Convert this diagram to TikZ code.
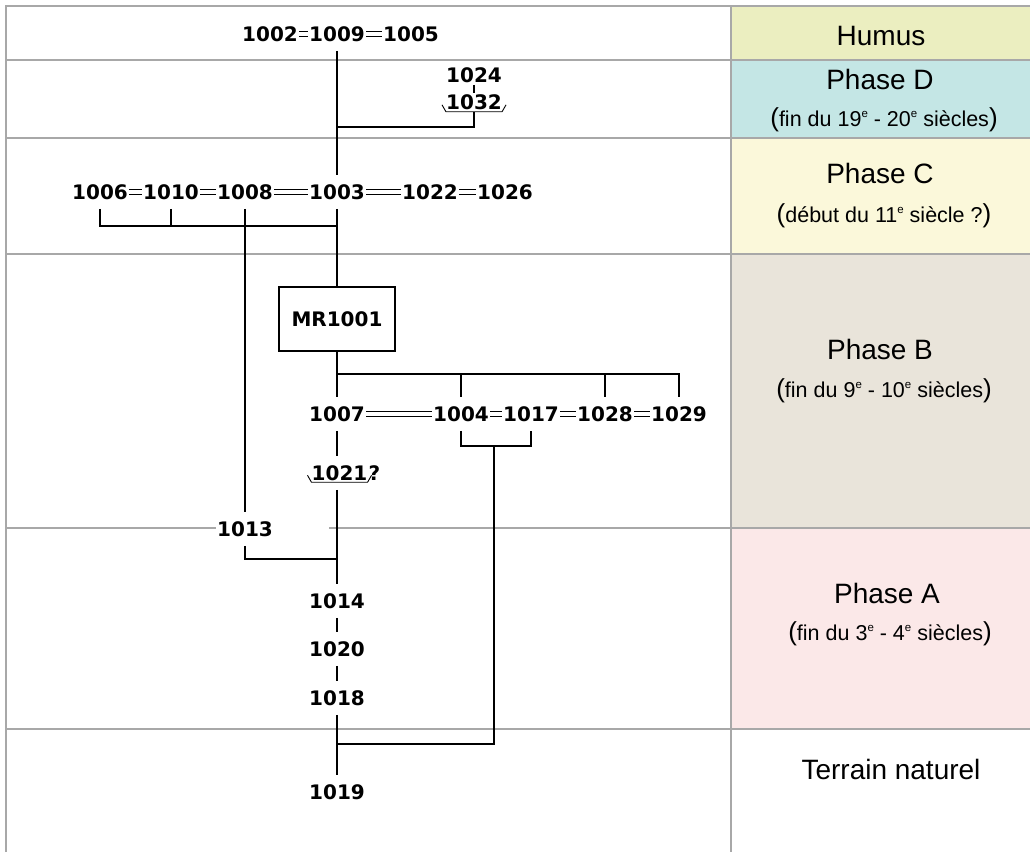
\documentclass[tikz,border=0pt]{standalone}
\usepackage{fontspec}
\setmainfont{Liberation Sans}
\newfontfamily\numfont{DejaVu Sans}
\newcommand{\gpar}[1]{{\fontsize{26}{26}\selectfont #1}}
\newcommand{\expo}[1]{\raisebox{8.5pt}{\fontsize{11.5}{11.5}\selectfont #1}}
\definecolor{humus}{RGB}{235,238,192}
\definecolor{phaseD}{RGB}{196,230,229}
\definecolor{phaseC}{RGB}{251,248,218}
\definecolor{phaseB}{RGB}{233,228,218}
\definecolor{phaseA}{RGB}{251,232,232}
\definecolor{grille}{RGB}{168,168,168}
\begin{document}
\begin{tikzpicture}[x=1pt,y=-1pt,
    us/.style={font=\numfont\bfseries\fontsize{20}{20}\selectfont, inner xsep=1pt, inner ysep=9pt},
    egal/.style={double, double distance=3.8pt, line width=0.8pt},
    lien/.style={line width=1.3pt},
    ligne/.style={grille, line width=1.3pt},
    phase/.style={font=\fontsize{28}{28}\selectfont, anchor=base},
    epoque/.style={font=\fontsize{21.5}{21.5}\selectfont, anchor=base}]
    \useasboundingbox (0,0) rectangle (1030,852);
    % fonds des phases
    \fill[humus] (731,6) rectangle (1030,60);
    \fill[phaseD] (731,60) rectangle (1030,138);
    \fill[phaseC] (731,138) rectangle (1030,254);
    \fill[phaseB] (731,254) rectangle (1030,528);
    \fill[phaseA] (731,528) rectangle (1030,729);
    % grille
    \draw[ligne] (6,852) -- (6,6) -- (1030,6);
    \foreach \y in {60,138,254,729}
    \draw[ligne] (6,\y) -- (1030,\y);
    \draw[ligne] (731,6) -- (731,852);
    % colonne des phases
    \node[phase] (humus) at (881,45) {Humus};
    \node[phase] (phD) at (880,89) {Phase D};
    \node[epoque] (epD) at (884,126) {\gpar{(}fin du 19\expo{e} - 20\expo{e} siècles\gpar{)}};
    \node[phase] (phC) at (880,183) {Phase C};
    \node[epoque] (epC) at (884,222) {\gpar{(}début du 11\expo{e} siècle ?\gpar{)}};
    \node[phase] (phB) at (880,359) {Phase B};
    \node[epoque] (epB) at (884,397) {\gpar{(}fin du 9\expo{e} - 10\expo{e} siècles\gpar{)}};
    \node[phase] (phA) at (887,603) {Phase A};
    \node[epoque] (epA) at (890,640) {\gpar{(}fin du 3\expo{e} - 4\expo{e} siècles\gpar{)}};
    \node[phase] (tn) at (891,779) {Terrain naturel};
    % humus
    \node[us] (n1002) at (270,34) {1002};
    \node[us] (n1009) at (337,34) {1009};
    \node[us] (n1005) at (411,34) {1005};
    % phase D
    \node[us, inner ysep=2pt] (n1024) at (474,75) {1024};
    \node[us, inner ysep=2pt] (n1032) at (474,102.5) {1032};
    % phase C
    \node[us] (n1006) at (100,192) {1006};
    \node[us] (n1010) at (171,192) {1010};
    \node[us] (n1008) at (245,192) {1008};
    \node[us] (n1003) at (337,192) {1003};
    \node[us] (n1022) at (430,192) {1022};
    \node[us] (n1026) at (505,192) {1026};
    % phase B
    \node[us, draw, line width=1.3pt, minimum width=116, minimum height=64] (mr) at (337,319) {MR1001};
    \node[us] (n1007) at (337,414) {1007};
    \node[us] (n1004) at (461,414) {1004};
    \node[us] (n1017) at (531,414) {1017};
    \node[us] (n1028) at (605,414) {1028};
    \node[us] (n1029) at (679,414) {1029};
    \node[us] (n1021) at (339.5,473) {1021};
    \node[us, anchor=base west, inner xsep=0pt] (q1021) at (n1021.base east) {?};
    % phase A
    \node[us] (n1013) at (245,529) {1013};
    \node[us] (n1014) at (337,601) {1014};
    \node[us] (n1020) at (337,649) {1020};
    \node[us] (n1018) at (337,698) {1018};
    % terrain naturel
    \node[us] (n1019) at (337,792) {1019};
    % ligne coupee par 1013
    \coordinate (g) at (329,528);
    \draw[ligne] (6,528) -- (n1013.west |- g);
    \draw[ligne] (g) -- (1030,528);
    % egalites
    \foreach \a/\b in {n1002/n1009,n1009/n1005,n1006/n1010,n1010/n1008,n1008/n1003,n1003/n1022,n1022/n1026,n1007/n1004,n1004/n1017,n1017/n1028,n1028/n1029}
    \draw[egal] (\a) -- (\b);
    % creusements
    \foreach \n in {n1032,n1021}
    \draw[line width=0.9pt] ([shift={(-3,-5)}]\n.base west) -- ([shift={(1,2)}]\n.base west) -- ([shift={(-1,2)}]\n.base east) -- ([shift={(3,-5)}]\n.base east);
    % liens
    \draw[lien] (n1009) -- (n1003);
    \draw[lien] (n1024) -- (n1032);
    \coordinate (jD) at (337,127);
    \draw[lien] (n1032.south) |- (jD);
    \coordinate (jC) at (337,226);
    \draw[lien] (n1006.south) |- (jC);
    \draw[lien] (n1010.south) -- (n1010.south |- jC);
    \draw[lien] (n1003) -- (mr);
    \draw[lien] (n1008) -- (n1013);
    \draw[lien] (mr) -- (n1007);
    \coordinate (jB) at (337,374);
    \foreach \n in {n1004,n1028,n1029}
    \draw[lien] (jB) -| (\n.north);
    \coordinate (jE) at (494,446);
    \draw[lien] (n1004.south) |- (jE) -| (n1017.south);
    \draw[lien] (n1007.south) -- (n1007.south |- n1021.north);
    \coordinate (jA) at (337,559);
    \draw[lien] (n1013.south) |- (jA);
    \draw[lien] (n1021.south -| jA) -- (n1014);
    \draw[lien] (n1014) -- (n1020);
    \draw[lien] (n1020) -- (n1018);
    \draw[lien] (n1018) -- (n1019);
    \coordinate (jN) at (337,744);
    \draw[lien] (jE) |- (jN);
\end{tikzpicture}
\end{document}
